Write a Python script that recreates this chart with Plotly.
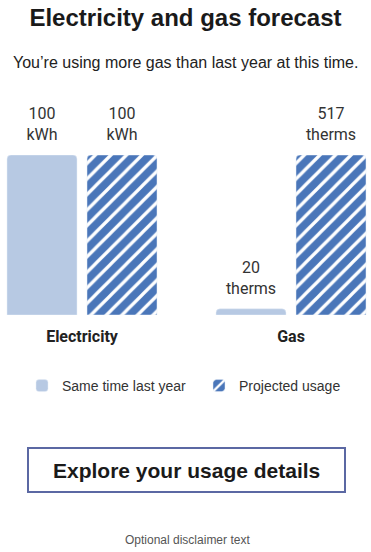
import plotly.graph_objects as go

W, H = 371, 552

title_text = "Electricity and gas forecast"
subtitle_text = "You’re using more gas than last year at this time."
series_names = ["Same time last year", "Projected usage"]
elec_category = ["Electricity"]
gas_category = ["Gas"]
elec_values = [100, 100]       # last year, projected
gas_values = [20, 517]
elec_unit = "kWh"
gas_unit = "therms"
button_text = "Explore your usage details"
disclaimer_text = "Optional disclaimer text"

LIGHT = "#b7c9e3"
DARK = "#4a76b9"
ARIAL = "Arial, Liberation Sans, sans-serif"
ROBOTO = "Roboto, sans-serif"


def py(px):
    return 1 - px / H


fig = go.Figure()

groups = [
    (elec_category, elec_values, elec_unit, "x", "y"),
    (gas_category, gas_values, gas_unit, "x2", "y2"),
]
legend_ids = ["legend", "legend2"]

for gi, (cat, vals, unit, xa, ya) in enumerate(groups):
    for si, name in enumerate(series_names):
        if si == 0:
            marker = dict(color=LIGHT)
        else:
            marker = dict(color=DARK, pattern=dict(shape="/", fillmode="overlay",
                                                    fgcolor="white", fgopacity=1,
                                                    size=11, solidity=0.3))
        fig.add_trace(go.Bar(
            x=cat, y=[vals[si]], name=name, marker=marker,
            xaxis=xa, yaxis=ya, offsetgroup=str(si), legendgroup=name,
            legend=legend_ids[si],
            showlegend=(gi == 0), hoverinfo="skip",
        ))
        fig.add_trace(go.Scatter(
            x=cat, y=[vals[si]], mode="markers+text",
            text=[f"{vals[si]}<br>{unit}"], textposition="top center",
            textfont=dict(family=ROBOTO, size=16, color="#333"),
            marker=dict(size=16, opacity=0),
            xaxis=xa, yaxis=ya, offsetgroup=str(si), showlegend=False,
            hoverinfo="skip", cliponaxis=False,
        ))

y_dom = [py(315), py(155)]
xcommon = dict(showgrid=False, zeroline=False, showline=False, ticks="",
               tickfont=dict(family=ROBOTO, size=16, color="#222", weight=700),
               fixedrange=True, ticklabelstandoff=10)
ycommon = dict(visible=False, fixedrange=True, domain=y_dom)
legend_common = dict(orientation="h", xanchor="left", y=py(386), yanchor="middle",
                     font=dict(family=ARIAL, size=14, color="#333"),
                     itemclick=False, itemdoubleclick=False)

fig.update_layout(
    width=W, height=H,
    margin=dict(l=0, r=0, t=0, b=0),
    paper_bgcolor="white", plot_bgcolor="white",
    font=dict(family=ARIAL, color="#222"),
    barmode="group", bargap=0, bargroupgap=0.125, barcornerradius=4,
    scattermode="group", scattergap=0,
    xaxis=dict(domain=[2 / W, 162 / W], **xcommon),
    xaxis2=dict(domain=[211 / W, 1], anchor="y2", **xcommon),
    yaxis=dict(range=[0, max(elec_values)], anchor="x", **ycommon),
    yaxis2=dict(range=[0, max(gas_values)], anchor="x2", **ycommon),
    title=dict(text=f"<b>{title_text}</b>", x=0.5, xanchor="center",
               y=py(18), yanchor="middle", yref="paper",
               font=dict(family=ARIAL, size=24, color="#1a1a1a")),
    legend=dict(x=22 / W, **legend_common),
    legend2=dict(x=199 / W, **legend_common),
    hovermode=False,
    showlegend=True,
)

fig.add_annotation(text=subtitle_text, x=0.5, y=py(63), xref="paper", yref="paper",
                   xanchor="center", yanchor="middle",
                   showarrow=False, font=dict(family=ARIAL, size=16, color="#222"))

fig.add_shape(type="rect", xref="paper", yref="paper",
              x0=28 / W, x1=345 / W, y0=py(492), y1=py(448),
              line=dict(color="#5b68a3", width=2), fillcolor="white", layer="below")
fig.add_annotation(text=f"<b>{button_text}</b>", x=186.5 / W, y=py(470), xref="paper", yref="paper",
                   xanchor="center", yanchor="middle",
                   showarrow=False, font=dict(family=ARIAL, size=21, color="#1a1a1a"))
fig.add_annotation(text=disclaimer_text, x=187 / W, y=py(540), xref="paper", yref="paper",
                   xanchor="center", yanchor="middle",
                   showarrow=False, font=dict(family=ARIAL, size=12, color="#555"))

fig.write_html("out.html", config=dict(displayModeBar=False),
               post_script="document.body.style.margin='0';document.body.style.overflow='hidden';")
